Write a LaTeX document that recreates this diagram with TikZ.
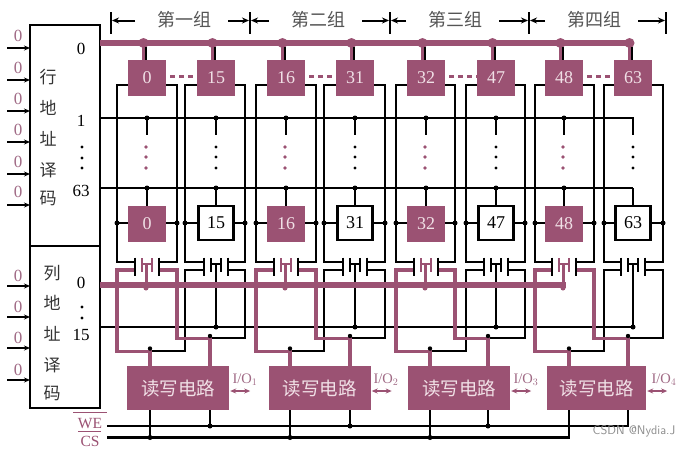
\documentclass[tikz,border=0pt]{standalone}
\usepackage{fontspec}
\setmainfont{Liberation Serif}
\newfontfamily\cjk{Noto Sans CJK SC}
\usetikzlibrary{arrows.meta,calc}
\definecolor{rose}{HTML}{9B5273}
\definecolor{rosetxt}{HTML}{A06A85}
\definecolor{celltxt}{HTML}{F0E0E6}
\definecolor{headtxt}{HTML}{555555}
\tikzset{
  wire/.style={line width=2.4pt,black},
  pinkwire/.style={line width=3.8pt,rose},
  bus/.style={line width=5.2pt,rose},
  cellp/.style={draw=none,fill=rose,minimum width=38pt,minimum height=36pt,inner sep=0pt,text=celltxt,font=\fontsize{18}{18}\selectfont},
  cellw/.style={draw=black,line width=2.4pt,fill=white,minimum width=35pt,minimum height=34pt,inner sep=0pt,text=black,font=\fontsize{18}{18}\selectfont},
  rwbox/.style={fill=rose,minimum width=102pt,minimum height=44pt,inner sep=0pt,text=celltxt,font=\cjk\fontsize{18.5}{18.5}\selectfont},
  dec/.style={draw=black,line width=2.4pt,fill=white,inner sep=0pt},
  cjkv/.style={inner sep=0pt,text=black!80,font=\cjk\fontsize{17}{17}\selectfont},
  num/.style={inner sep=0pt,text=black,font=\fontsize{17}{17}\selectfont},
  inp/.style={inner sep=0pt,text=rosetxt,font=\fontsize{17}{17}\selectfont},
  head/.style={inner sep=0pt,text=headtxt,font=\cjk\fontsize{18}{18}\selectfont},
  iolab/.style={inner sep=0pt,text=rosetxt,font=\fontsize{14.5}{14.5}\selectfont},
  jn/.style={circle,fill=black,inner sep=0pt,minimum size=5pt},
  dotk/.style={circle,fill=black,inner sep=0pt,minimum size=3.4pt},
  dotp/.style={circle,fill=rose,inner sep=0pt,minimum size=3.8pt},
  inarrow/.style={line width=2.2pt,-{Stealth[length=6pt,width=5pt]}},
  brk/.style={line width=2.2pt,black},
  harrow/.style={line width=2pt,black,-{Stealth[length=7pt,width=6pt]}},
  ioarrow/.style={line width=1.5pt,rose,{Stealth[length=6pt,width=5pt]}-{Stealth[length=6pt,width=5pt]}}
}
\begin{document}
\begin{tikzpicture}[x=1pt,y=-1pt]
\useasboundingbox (0,0) rectangle (693,448);
\fill[white] (0,0) rectangle (693,448);

% decoders
\node[dec,minimum width=70pt,minimum height=221pt] (rowdec) at (65,135.5) {};
\node[dec,minimum width=70pt,minimum height=162pt] (coldec) at (65,327) {};
\foreach \t/\y [count=\k] in {行/77,地/108,址/139,译/170,码/198}
  \node[cjkv] (ra\k) at (48,\y) {\t};
\foreach \t/\y [count=\k] in {列/273,地/303,址/334,译/365,码/393}
  \node[cjkv] (ca\k) at (52,\y) {\t};

\node[num] (r0) at (81,49) {0};
\node[num] (r1) at (81,121) {1};
\node[num] (r63) at (81,191) {63};
\node[num] (c0) at (81,283) {0};
\node[num] (c15) at (81,335) {15};
\foreach \y [count=\k] in {147,158,168} \node[dotk] (rd\k) at (82,\y) {};
\foreach \y [count=\k] in {307,318} \node[dotk] (cd\k) at (82,\y) {};

% inputs
\foreach \y/\ly [count=\k] in {48/36,80/68,111/99,142/130,174/162,205/192,286/276,317/307,348/338,380/370}{
  \coordinate (in\k) at (7,\y);
  \node[inp] (inl\k) at (18,\ly) {0};
  \draw[inarrow] (in\k) -- (30,\y);
}

% group headers
\foreach \x [count=\k] in {111,250,390,529,666}{
  \coordinate (ga\k) at (\x,12);
  \coordinate (gb\k) at (\x,34);
  \draw[brk] (ga\k) -- (gb\k);
}
\foreach \t/\x/\a/\b [count=\k] in {第一组/184/111/250,第二组/318/250/390,第三组/455/390/529,第四组/594/529/666}{
  \node[head] (gt\k) at (\x,20) {\t};
  \draw[harrow] (\x-49,20.5) -- (\a+1,20.5);
  \draw[harrow] (\x+44,20.5) -- (\b-1,20.5);
}

% row and column lines (black, behind)
\coordinate (row1r) at (633,118);
\coordinate (row63r) at (633,188);
\coordinate (col15r) at (633,327);
\draw[wire] (100,118) -- (row1r) -- (633,135);
\draw[wire] (100,188) -- (row63r);
\draw[wire] (100,327) -- (col15r);

% columns
\foreach \cx/\n/\L/\R/\isp in {147/0/117/177/1,216/15/185/245/0,286/16/256/316/1,355/31/324/385/0,426/32/396/455/1,496/47/466/525/0,564/48/535/594/1,633/63/604/663/0}{
  % bit lines
  \draw[wire] (\cx,85) -- (\L,85) -- (\L,262) -- (\cx-12,262);
  \draw[wire] (\cx,85) -- (\R,85) -- (\R,262) -- (\cx+12,262);
  \draw[wire] (\L,223) -- (\R,223);
  \node[jn] at (\L,223) {};
  \node[jn] at (\R,223) {};
  % row stems
  \ifnum\n<63
    \node[jn] at (\cx,118) {};
    \node[jn] at (\cx,188) {};
  \fi
  \draw[wire] (\cx,118) -- (\cx,135);
  \draw[wire] (\cx,188) -- (\cx,207);
  % top cell
  \node[cellp] (top\n) at (\cx,78) {\n};
  % transistor plates
  \draw[wire] (\cx-12,257.5) -- (\cx-12,276);
  \draw[wire] (\cx+12,257.5) -- (\cx+12,276);
  \ifnum\isp=1
    \node[cellp] (bot\n) at (\cx,224) {\n};
    \foreach \y in {147,157,168} \node[dotp] at (\cx-1,\y) {};
    \draw[line width=2.4pt,rose] (\cx-5,258) -- (\cx-5,272) (\cx+5,258) -- (\cx+5,272) (\cx-5,264) -- (\cx+5,264);
    \draw[line width=3pt,rose] (\cx-1,264) -- (\cx-1,288);
  \else
    \node[cellw] (bot\n) at (\cx,223) {\n};
    \foreach \y in {147,157,168} \node[dotk] at (\cx,\y) {};
    \draw[line width=2.4pt,black] (\cx-5,258) -- (\cx-5,272) (\cx+5,258) -- (\cx+5,272) (\cx-5,264) -- (\cx+5,264);
    \draw[wire] (\cx,264) -- (\cx,327);
    \node[jn] at (\cx,327) {};
  \fi
}
% dashes between top cells
\foreach \a/\b in {0/15,16/31,32/47,48/63}
  \draw[line width=2.2pt,rose,dash pattern=on 5pt off 4pt] (top\a.east |- 0,76.5) ++(4,0) -- (top\b.west |- 0,76.5);

% read/write boxes
\node[rwbox] (rw1) at (178,388) {读写电路};
\node[rwbox] (rw2) at (319.5,388) {读写电路};
\node[rwbox] (rw3) at (459,388) {读写电路};
\node[rwbox,minimum width=99pt] (rw4) at (596.5,388) {读写电路};

% WE / CS
\draw[wire] (107,426) -- (628,426) -- (rw4.south -| 628,0);
\draw[wire] (107,437.5) -- (569,437.5) -- (rw4.south -| 569,0);
\foreach \a/\b/\r in {150/210/1,290/350/2,430/488/3}{
  \draw[wire] (\a,437.5) -- (rw\r.south -| \a,0);
  \draw[wire] (\b,426) -- (rw\r.south -| \b,0);
  \node[jn] at (\a,437.5) {};
  \node[jn] at (\b,426) {};
}

% lower black data lines
\foreach \cx/\L/\R/\a/\b in {216/185/245/150/210,355/324/385/290/350,496/466/525/430/488,633/604/663/569/628}{
  \draw[wire] (\cx-12,270) -- (\L,270) -- (\L,351) -- (\a,351);
  \draw[wire] (\cx+12,270) -- (\R,270) -- (\R,338) -- (\b,338);
}

% column select bus
\coordinate (busr) at (566,285);
\draw[bus] (100,285) -- (busr);

% lower pink data lines
\foreach \cx/\L/\R/\a/\b/\r in {147/117/177/150/210/1,286/256/316/290/350/2,426/396/455/430/488/3,564/535/594/569/628/4}{
  \draw[pinkwire] (\cx-13,270) -- (\L,270) -- (\L,351.5) -- (\a,351.5) -- (\a,366);
  \draw[pinkwire] (\cx+13,270) -- (\R,270) -- (\R,338.5) -- (\b,338.5) -- (\b,366);
  \node[jn,minimum size=4.4pt] at (\a,348.5) {};
  \node[jn,minimum size=4.4pt] at (\b,336) {};
  \node[dotp,minimum size=5pt] at (\cx-1,288) {};
}

% row 0 bus
\coordinate (row0r) at (631,43);
\draw[bus] (100,43) -- (row0r);
\foreach \cx/\n in {147/0,216/15,286/16,355/31,426/32,496/47,564/48,633/63}{
  \coordinate (tap\n) at (\cx-3.5,43);
  \fill[rose] (tap\n) circle (5pt);
  \draw[line width=3.6pt,rose] (tap\n) -- (top\n.north -| \cx-3.5,0);
  \draw[line width=2pt,black] (\cx-0.8,47) -- (top\n.north -| \cx-0.8,0);
}

% I/O labels
\foreach \x/\s/\r in {245/1/1,386/2/2,526/3/3,664/4/4}{
  \node[iolab] (io\r) at (\x,380) {I/O$_{\s}$};
  \draw[ioarrow] (rw\r.east |- 0,391) ++(1,0) -- ++(20,0);
}

% WE CS labels
\node[inner sep=0pt,text=rose,font=\fontsize{15.5}{15.5}\selectfont] (we) at (90,424) {WE};
\node[inner sep=0pt,text=rose,font=\fontsize{15.5}{15.5}\selectfont] (cs) at (90,441) {CS};
\draw[line width=1.8pt,rose] (73,412.5) -- (107,412.5);
\draw[line width=1.8pt,rose] (78,431.5) -- (101,431.5);

% watermark
\node[inner sep=0pt,text=black!45,font=\fontsize{12.5}{12.5}\selectfont\sffamily] (wm) at (634,431) {CSDN @Nydia.J};
\end{tikzpicture}
\end{document}
